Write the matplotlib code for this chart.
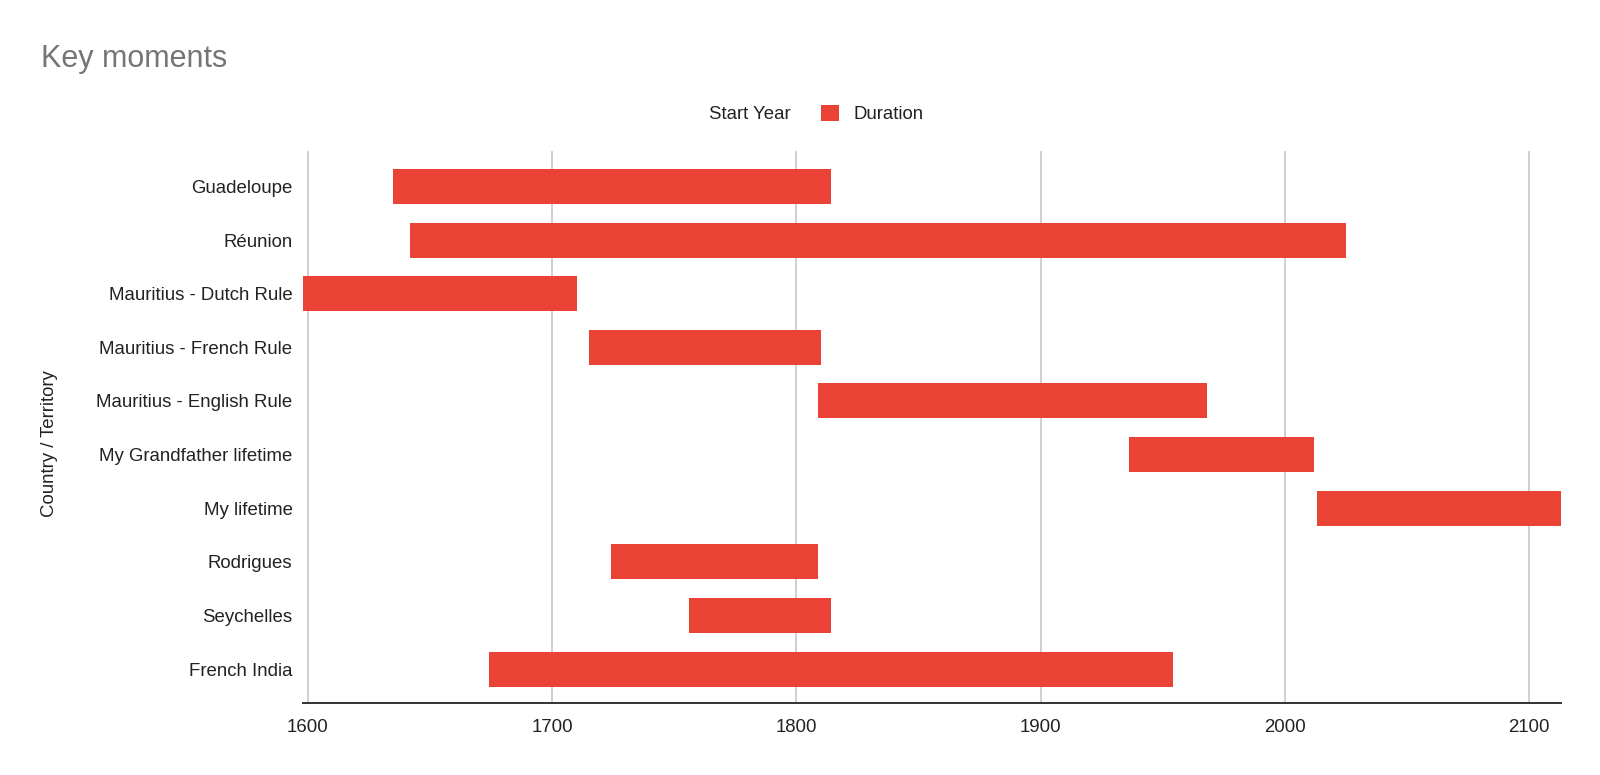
import matplotlib
matplotlib.use("Agg")
import matplotlib.pyplot as plt
from matplotlib.patches import Patch

plt.rcParams['font.family'] = ['Liberation Sans', 'DejaVu Sans']

categories = ["Guadeloupe", "Réunion", "Mauritius - Dutch Rule", "Mauritius - French Rule",
              "Mauritius - English Rule", "My Grandfather lifetime", "My lifetime",
              "Rodrigues", "Seychelles", "French India"]
start_year = [1635, 1642, 1598, 1715, 1809, 1936, 2013, 1724, 1756, 1674]
duration = [179, 383, 112, 95, 159, 76, 100, 85, 58, 280]
x_ticks = [1600, 1700, 1800, 1900, 2000, 2100]

RED = '#EA4335'

fig = plt.figure(figsize=(16, 7.75), dpi=100)
ax = fig.add_axes([303/1600, 1-703/775, (1561-303)/1600, (703-151)/775])

ypos = list(range(len(categories)))
ax.barh(ypos, start_year, height=0.653, color='none', label='Start Year')
ax.barh(ypos, duration, left=start_year, height=0.653, color=RED, label='Duration', zorder=3)

ax.set_xlim(1598, 2113)
ax.set_ylim(9.634, -0.662)
ax.set_xticks(x_ticks)
ax.set_xticklabels([str(t) for t in x_ticks])
ax.set_yticks(ypos)
ax.set_yticklabels(categories)
ax.tick_params(axis='both', length=0, labelsize=13.4, colors='#222222')
ax.tick_params(axis='y', pad=7.5)
ax.tick_params(axis='x', pad=11.5)
ax.grid(axis='x', color='#CCCCCC', linewidth=1.3, zorder=0)
ax.set_axisbelow(True)
for s in ['top', 'right', 'left']:
    ax.spines[s].set_visible(False)
ax.spines['bottom'].set_color('#333333')
ax.spines['bottom'].set_linewidth(1.4)
ax.spines['bottom'].set_zorder(4)

fig.text(50/1600, 1-444/775, "Country / Territory", rotation=90, ha='center', va='center',
         fontsize=13.4, color='#222222')
fig.text(41/1600, 1-67/775, "Key moments", ha='left', va='baseline', fontsize=22, color='#757575')

handles = [Patch(facecolor='none', edgecolor='none'), Patch(facecolor=RED, edgecolor='none')]
fig.legend(handles, ['Start Year', 'Duration'], loc='center', bbox_to_anchor=(800/1600, 1-114/775),
           ncol=2, frameon=False, fontsize=13.4, handlelength=1.0, handleheight=1.0,
           handletextpad=0.75, columnspacing=1.6, borderpad=0, labelcolor='#222222')

fig.savefig('out.png', dpi=100, facecolor='white')
